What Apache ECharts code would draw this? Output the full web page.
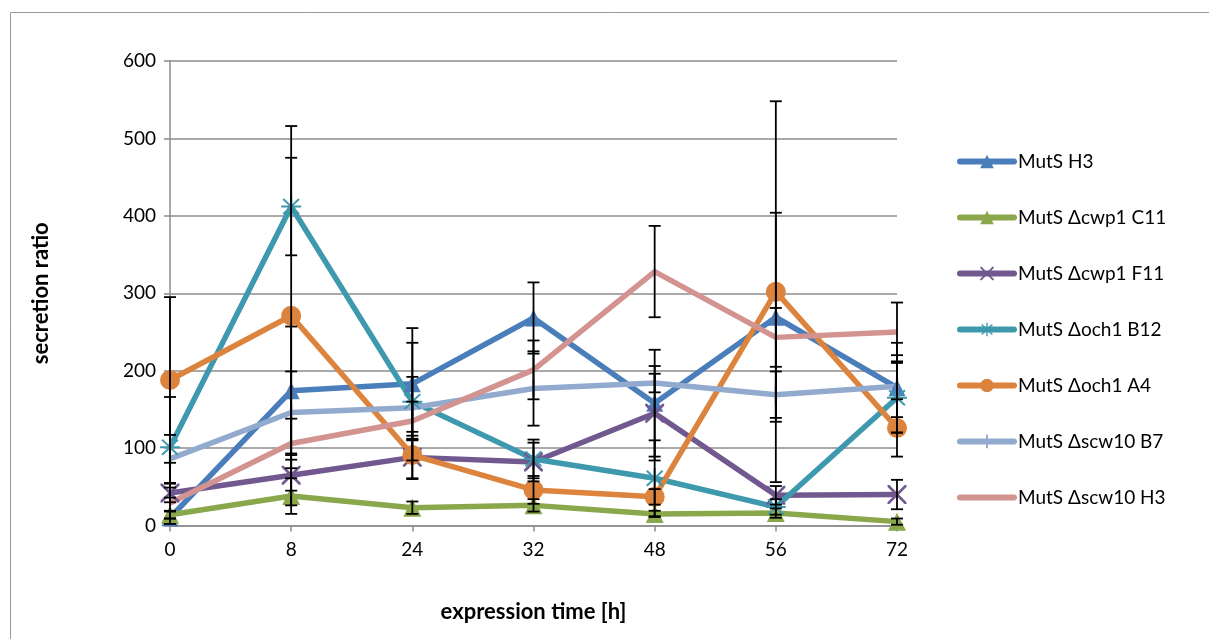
<!DOCTYPE html>
<html>
<head>
<meta charset="utf-8">
<script src="https://cdn.jsdelivr.net/npm/echarts@6/dist/echarts.min.js"></script>
<style>
  html, body { margin: 0; padding: 0; background: #fff; }
  #chart { width: 1209px; height: 639px; }
</style>
</head>
<body>
<div id="chart"></div>
<script>
// expression time [h]
var times = ["0", "8", "24", "32", "48", "56", "72"];

var mutsH3 = [10, 174, 183, 268, 158, 269, 178];
var cwp1C11 = [14, 38, 23, 26, 15, 16, 5];
var cwp1F11 = [42, 65, 88, 82, 145, 39, 40];
var och1B12 = [101, 412, 160, 86, 61, 24, 165];
var och1A4 = [188, 271, 91, 46, 37, 302, 126];
var scw10B7 = [86, 146, 152, 177, 184, 169, 180];
var scw10H3 = [29, 106, 135, 201, 328, 243, 250];

// standard deviations (error bars)
var errH3 = [8, 83, 72, 46, 69, 135, 58];
var errC11 = [5, 23, 8, 8, 4, 6, 4];
var errF11 = [12, 20, 28, 25, 61, 12, 19];
var errB12 = [65, 63, 76, 25, 49, 10, 45];
var errA4 = [107, 245, 30, 18, 10, 246, 37];
var errB7 = [31, 53, 40, 48, 12, 30, 40];
var errH3b = [20, 32, 25, 38, 59, 38, 38];

var names = [
  "MutS H3", "MutS Δcwp1 C11", "MutS Δcwp1 F11", "MutS Δoch1 B12",
  "MutS Δoch1 A4", "MutS Δscw10 B7", "MutS Δscw10 H3"
];
var colors = ["#4a7ebb", "#8aa84b", "#71588f", "#3f99ae", "#dc843d", "#93aacf", "#d39391"];
var values = [mutsH3, cwp1C11, cwp1F11, och1B12, och1A4, scw10B7, scw10H3];
var errors = [errH3, errC11, errF11, errB12, errA4, errB7, errH3b];

var plusMark = "path://M0,0 L0,0 Z M10,10 L10,10 Z M4.3,0 L5.7,0 L5.7,10 L4.3,10 Z";
var symbols = [
  { symbol: "triangle", size: 17 },
  { symbol: "triangle", size: 18 },
  { symbol: "path://M0,0 L1,0 L5,4 L9,0 L10,0 L10,1 L6,5 L10,9 L10,10 L9,10 L5,6 L1,10 L0,10 L0,9 L4,5 L0,1 Z", size: 19 },
  { symbol: "path://M4.5,0 L5.5,0 L5.5,3.8 L8.6,0.9 L9.3,1.6 L6.2,4.5 L10,4.5 L10,5.5 L6.2,5.5 L9.3,8.4 L8.6,9.1 L5.5,6.2 L5.5,10 L4.5,10 L4.5,6.2 L1.4,9.1 L0.7,8.4 L3.8,5.5 L0,5.5 L0,4.5 L3.8,4.5 L0.7,1.6 L1.4,0.9 L4.5,3.8 Z", size: 20 },
  { symbol: "circle", size: 20 },
  { symbol: plusMark, size: 17 },
  { symbol: "none", size: 0 }
];

var series = [];
names.forEach(function (n, i) {
  series.push({
    name: n,
    type: "line",
    data: values[i],
    color: colors[i],
    symbol: symbols[i].symbol,
    symbolSize: symbols[i].size,
    showSymbol: true,
    lineStyle: { width: 5.5, color: colors[i] },
    itemStyle: { color: colors[i] },
    z: 3
  });
});

// error bars, one custom series per data series
names.forEach(function (n, i) {
  var d = values[i].map(function (v, k) {
    return [k, Math.max(v - errors[i][k], 0), v + errors[i][k]];
  });
  series.push({
    type: "custom",
    name: n + " err",
    data: d,
    encode: { x: 0, y: [1, 2] },
    z: 4,
    silent: true,
    renderItem: function (params, api) {
      var lo = api.coord([api.value(0), api.value(1)]);
      var hi = api.coord([api.value(0), api.value(2)]);
      var hw = 6;
      var st = { stroke: "#000", lineWidth: 1.8 };
      return {
        type: "group",
        children: [
          { type: "line", shape: { x1: lo[0], y1: lo[1], x2: hi[0], y2: hi[1] }, style: st },
          { type: "line", shape: { x1: lo[0] - hw, y1: lo[1], x2: lo[0] + hw, y2: lo[1] }, style: st },
          { type: "line", shape: { x1: hi[0] - hw, y1: hi[1], x2: hi[0] + hw, y2: hi[1] }, style: st }
        ]
      };
    }
  });
});

var legendData = names.map(function (n, i) {
  if (i === 6) return { name: n, itemStyle: { opacity: 0 } };
  return { name: n };
});

var chart = echarts.init(document.getElementById("chart"));
chart.setOption({
  animation: false,
  backgroundColor: "#fff",
  textStyle: { fontFamily: "Lato" },
  graphic: [
    {
      type: "rect",
      shape: { x: 10.5, y: 12.5, width: 1210, height: 640 },
      style: { fill: "none", stroke: "#9a9a9a", lineWidth: 1 },
      silent: true
    }
  ],
  grid: { left: 170, right: 312, top: 61, bottom: 113.5 },
  legend: {
    orient: "vertical",
    left: 952,
    top: 147,
    itemWidth: 54,
    itemHeight: 17,
    itemGap: 37,
    data: legendData,
    lineStyle: { width: 6, cap: "round" },
    textStyle: { fontSize: 19, color: "#000", fontFamily: "Lato", padding: [0, 0, 0, -1] }
  },
  xAxis: {
    type: "category",
    data: times,
    boundaryGap: false,
    name: "expression time [h]",
    nameLocation: "middle",
    nameGap: 75,
    nameTextStyle: { fontSize: 22, fontWeight: "bold", color: "#000" },
    axisLine: { lineStyle: { color: "#8c8c8c", width: 1.5 } },
    axisTick: { show: true, alignWithLabel: true, length: 6, lineStyle: { color: "#8c8c8c", width: 1.5 } },
    axisLabel: { fontSize: 19, color: "#000", margin: 15 },
    splitLine: { show: false }
  },
  yAxis: {
    type: "value",
    min: 0,
    max: 600,
    interval: 100,
    name: "secretion ratio",
    nameLocation: "middle",
    nameGap: 118,
    nameRotate: 90,
    nameTextStyle: { fontSize: 22, fontWeight: "bold", color: "#000" },
    axisLine: { show: true, lineStyle: { color: "#8c8c8c", width: 1.5 } },
    axisTick: { show: true, length: 6, inside: false, lineStyle: { color: "#8c8c8c", width: 1.5 } },
    axisLabel: { fontSize: 19, color: "#000", margin: 14 },
    splitLine: { show: true, lineStyle: { color: "#8c8c8c", width: 1.5 } }
  },
  series: series
});
</script>
</body>
</html>
